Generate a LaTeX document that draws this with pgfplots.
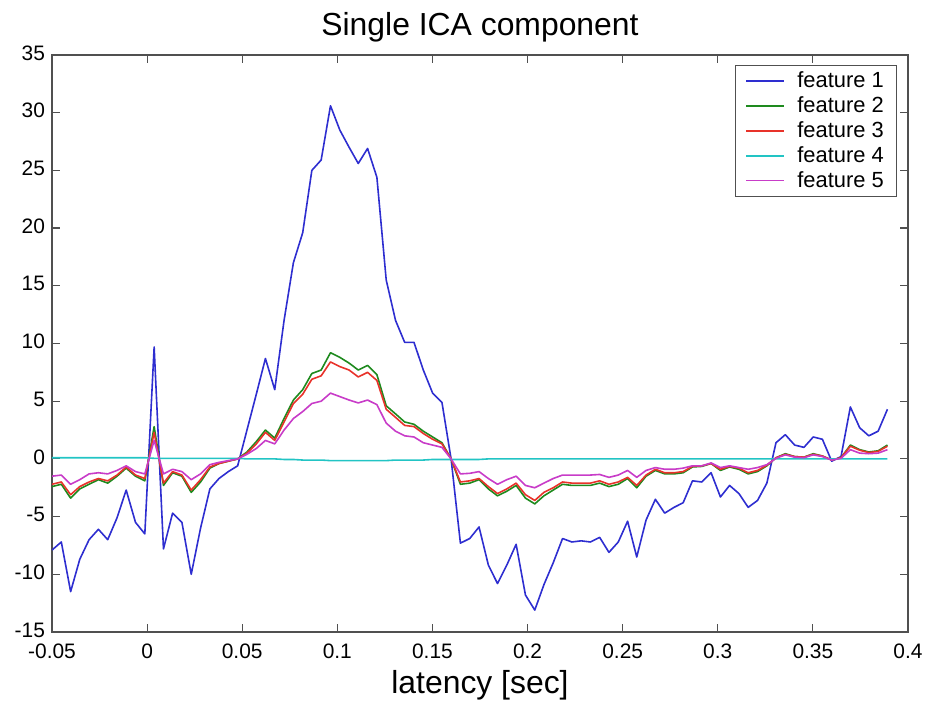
\documentclass[border=0pt]{standalone}
\usepackage{fontspec}
\setmainfont{Liberation Sans}
\usepackage{pgfplots}
\usepackage{pgfplotstable}
\pgfplotsset{compat=1.18}
\definecolor{fone}{HTML}{2E2ED0}
\definecolor{ftwo}{HTML}{1E8A1E}
\definecolor{fthree}{HTML}{E8322A}
\definecolor{ffour}{HTML}{22C4C4}
\definecolor{ffive}{HTML}{C83CC8}
\definecolor{axgray}{HTML}{505050}

% latency, then the five features
\pgfplotstableread{
t f1 f2 f3 f4 f5
-0.0500 -7.9 -2.4 -2.2 0.10 -1.5
-0.0451 -7.2 -2.2 -2.0 0.10 -1.4
-0.0402 -11.5 -3.4 -3.1 0.10 -2.2
-0.0354 -8.7 -2.6 -2.4 0.10 -1.8
-0.0305 -7.0 -2.2 -2.0 0.10 -1.3
-0.0256 -6.1 -1.8 -1.7 0.10 -1.2
-0.0207 -7.0 -2.1 -1.9 0.10 -1.3
-0.0158 -5.1 -1.5 -1.4 0.10 -1.0
-0.0110 -2.7 -0.8 -0.7 0.10 -0.6
-0.0061 -5.5 -1.5 -1.4 0.10 -1.1
-0.0012 -6.5 -1.9 -1.7 0.10 -1.3
0.0037 9.7 2.8 2.3 0.05 1.6
0.0086 -7.8 -2.3 -2.1 0.05 -1.3
0.0134 -4.7 -1.2 -1.1 0.05 -0.9
0.0183 -5.5 -1.5 -1.4 0.05 -1.1
0.0232 -10.0 -2.9 -2.7 0.05 -1.8
0.0281 -6.0 -2.0 -1.8 0.05 -1.3
0.0330 -2.6 -0.8 -0.7 0.05 -0.5
0.0378 -1.7 -0.4 -0.4 0.05 -0.3
0.0427 -1.1 -0.2 -0.2 0.05 -0.15
0.0476 -0.6 0.0 0.0 0.05 0.0
0.0525 2.5 0.6 0.5 0.00 0.4
0.0574 5.6 1.5 1.3 0.00 0.9
0.0622 8.7 2.5 2.3 0.00 1.6
0.0671 6.0 1.8 1.6 0.00 1.3
0.0720 12.0 3.5 3.2 -0.05 2.5
0.0769 17.0 5.1 4.8 -0.05 3.5
0.0818 19.6 6.0 5.6 -0.10 4.1
0.0866 25.0 7.4 6.9 -0.10 4.8
0.0915 25.9 7.7 7.2 -0.10 5.0
0.0964 30.6 9.2 8.4 -0.15 5.7
0.1013 28.5 8.8 8.0 -0.15 5.4
0.1062 27.0 8.3 7.7 -0.15 5.1
0.1110 25.6 7.7 7.1 -0.15 4.85
0.1159 26.9 8.1 7.5 -0.15 5.1
0.1208 24.4 7.3 6.8 -0.15 4.7
0.1257 15.5 4.6 4.3 -0.15 3.1
0.1306 12.0 3.9 3.6 -0.10 2.4
0.1354 10.1 3.2 2.9 -0.10 2.0
0.1403 10.1 3.0 2.8 -0.10 1.9
0.1452 7.7 2.4 2.2 -0.10 1.4
0.1501 5.7 1.9 1.7 -0.05 1.2
0.1550 4.9 1.4 1.3 -0.05 1.0
0.1598 0.0 0.0 0.0 -0.05 0.0
0.1647 -7.3 -2.2 -2.0 -0.05 -1.3
0.1696 -6.9 -2.1 -1.9 -0.05 -1.25
0.1745 -5.9 -1.8 -1.7 -0.05 -1.1
0.1794 -9.2 -2.6 -2.4 0.00 -1.7
0.1842 -10.8 -3.2 -3.0 0.00 -2.2
0.1891 -9.2 -2.8 -2.6 0.00 -1.8
0.1940 -7.4 -2.3 -2.1 0.00 -1.5
0.1989 -11.8 -3.4 -3.1 0.00 -2.3
0.2038 -13.1 -3.9 -3.6 0.00 -2.5
0.2086 -10.9 -3.2 -2.9 0.00 -2.1
0.2135 -9.0 -2.7 -2.5 0.00 -1.7
0.2184 -6.9 -2.2 -2.0 0.00 -1.4
0.2233 -7.2 -2.3 -2.1 0.00 -1.4
0.2282 -7.1 -2.3 -2.1 0.00 -1.4
0.2330 -7.2 -2.3 -2.1 0.00 -1.4
0.2379 -6.8 -2.1 -1.9 0.00 -1.35
0.2428 -8.1 -2.4 -2.2 0.00 -1.6
0.2477 -7.2 -2.2 -2.0 0.00 -1.4
0.2526 -5.4 -1.7 -1.6 0.00 -1.0
0.2574 -8.5 -2.5 -2.3 0.00 -1.6
0.2623 -5.3 -1.5 -1.4 0.00 -1.0
0.2672 -3.5 -1.0 -0.9 0.00 -0.75
0.2721 -4.7 -1.3 -1.2 0.00 -0.9
0.2770 -4.2 -1.3 -1.2 0.00 -0.9
0.2818 -3.8 -1.2 -1.1 0.00 -0.8
0.2867 -1.9 -0.7 -0.65 0.00 -0.6
0.2916 -2.0 -0.65 -0.6 0.00 -0.6
0.2965 -1.2 -0.4 -0.4 0.00 -0.35
0.3014 -3.3 -1.0 -0.9 0.00 -0.75
0.3062 -2.3 -0.7 -0.65 0.00 -0.6
0.3111 -3.0 -0.9 -0.8 0.00 -0.75
0.3160 -4.2 -1.3 -1.2 0.00 -0.9
0.3209 -3.6 -1.1 -1.0 0.00 -0.75
0.3258 -2.1 -0.6 -0.55 0.00 -0.5
0.3306 1.4 0.1 0.1 0.00 0.05
0.3355 2.1 0.45 0.4 0.00 0.35
0.3404 1.2 0.2 0.2 0.00 0.15
0.3453 1.0 0.15 0.15 0.00 0.1
0.3502 1.9 0.45 0.4 0.00 0.35
0.3550 1.7 0.25 0.25 0.00 0.2
0.3599 -0.2 -0.1 -0.1 0.00 -0.1
0.3648 0.2 0.1 0.1 0.00 0.05
0.3697 4.5 1.2 1.1 0.00 0.8
0.3746 2.7 0.8 0.75 0.00 0.5
0.3794 2.0 0.6 0.55 0.00 0.45
0.3843 2.4 0.7 0.65 0.00 0.5
0.3892 4.3 1.2 1.1 0.00 0.8
}\icadata

\begin{document}
\begin{tikzpicture}
\begin{axis}[
    at={(0,0)}, anchor=south west,
    scale only axis,
    width=428bp, height=288.5bp,
    xmin=-0.05, xmax=0.4,
    ymin=-15, ymax=35,
    xtick={-0.05,0,0.05,0.1,0.15,0.2,0.25,0.3,0.35,0.4},
    xticklabels={-0.05,0,0.05,0.1,0.15,0.2,0.25,0.3,0.35,0.4},
    ytick={-15,-10,-5,0,5,10,15,20,25,30,35},
    yticklabels={-15,-10,-5,0,5,10,15,20,25,30,35},
    xtick pos=both, ytick pos=both,
    tick align=inside,
    major tick length=4bp,
    axis line style={axgray, line width=0.7bp},
    tick style={axgray, line width=0.6bp},
    ticklabel style={font=\fontsize{10.5}{12}\selectfont},
    xticklabel style={yshift=-2.5bp},
    yticklabel style={yshift=1bp},
    title={Single ICA component},
    title style={font=\fontsize{16}{19}\selectfont, at={(rel axis cs:0.5,1)}, anchor=center, yshift=8bp},
    xlabel={latency [sec]},
    xlabel style={font=\fontsize{16}{19}\selectfont, at={(rel axis cs:0.5,0)}, anchor=center, yshift=-26.5bp},
    legend style={at={(rel axis cs:0.987,0.983)}, anchor=north east,
        draw=axgray, line width=0.6bp, inner xsep=5bp, inner ysep=2bp,
        font=\fontsize{11}{12}\selectfont,
        nodes={inner sep=1.2bp}, row sep=0.6bp, column sep=5bp},
    legend cell align=left,
    legend image code/.code={\draw[#1] (0bp,0bp) -- (19bp,0bp);},
    every axis plot/.append style={line width=0.8bp, line join=round},
]
\addplot[fone, no marks] table[x=t, y=f1] {\icadata};
\addlegendentry{feature 1}
\addplot[ftwo, no marks] table[x=t, y=f2] {\icadata};
\addlegendentry{feature 2}
\addplot[fthree, no marks] table[x=t, y=f3] {\icadata};
\addlegendentry{feature 3}
\addplot[ffour, no marks] table[x=t, y=f4] {\icadata};
\addlegendentry{feature 4}
\addplot[ffive, no marks] table[x=t, y=f5] {\icadata};
\addlegendentry{feature 5}
\end{axis}
\pgfresetboundingbox
\path (-26bp,-39.5bp) rectangle (438bp,316bp);
\end{tikzpicture}
\end{document}
